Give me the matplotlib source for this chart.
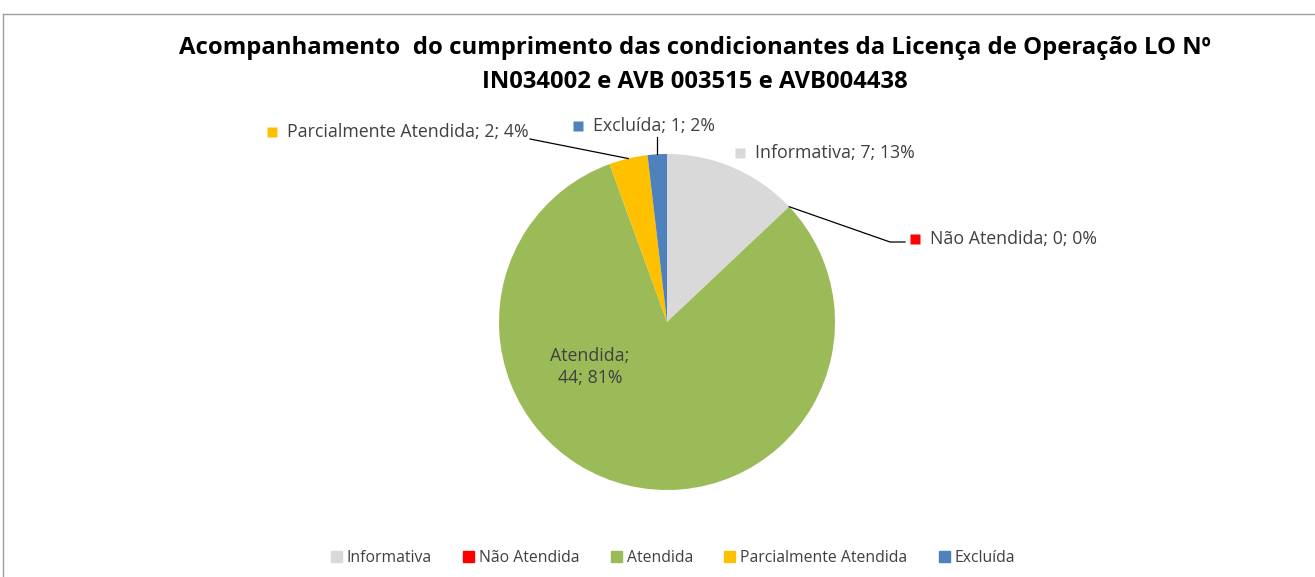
import matplotlib
matplotlib.use("Agg")
from matplotlib import pyplot as plt
from matplotlib.lines import Line2D
import numpy as np

categories = ["Informativa", "Não Atendida", "Atendida", "Parcialmente Atendida", "Excluída"]
values = [7, 0, 44, 2, 1]
colors = ["#D9D9D9", "#FF0000", "#9BBB59", "#FFC000", "#4F81BD"]

title = ("Acompanhamento  do cumprimento das condicionantes da Licença de Operação LO Nº\n"
         "IN034002 e AVB 003515 e AVB004438")

plt.rcParams["font.family"] = ["Open Sans", "DejaVu Sans"]
text_color = "#404040"

W, H = 1315, 577
cx, cy, r = 667, 322, 168

fig = plt.figure(figsize=(W / 100, H / 100), dpi=100)
ax = fig.add_axes([0, 0, 1, 1])

wedges, _ = ax.pie(values, colors=colors, startangle=90, counterclock=False,
                   radius=1, center=(0, 0), frame=True)
ax.set_xlim(-cx / r, (W - cx) / r)
ax.set_ylim((cy - H) / r, cy / r)
ax.set_aspect("equal")
ax.axis("off")

total = sum(values)


def px(x, y):
    return (x - cx) / r, (cy - y) / r


def mid_point(i):
    w = wedges[i]
    a = np.deg2rad((w.theta1 + w.theta2) / 2)
    return np.cos(a), np.sin(a)


# labels outside, with small colour squares (pixel positions of the reference)
label_pos = {0: (740, 153), 1: (915, 239), 3: (272, 132), 4: (578, 126)}
for i, (lx, ly) in label_pos.items():
    pct = round(100 * values[i] / total)
    mx, my = px(lx, ly)
    ax.plot(mx, my, marker="s", ms=7, color=colors[i], mec="none")
    tx, ty = px(lx + 15, ly)
    ax.text(tx, ty, f"{categories[i]}; {values[i]}; {pct}%", fontsize=12.8,
            color=text_color, va="center", ha="left")

# inside label for Atendida
pct = round(100 * values[2] / total)
ax.text(*px(590, 367), f"{categories[2]};\n{values[2]}; {pct}%", fontsize=12.8,
        color=text_color, ha="center", va="center", linespacing=1.3)

# leader lines
ex, ey = mid_point(4)
ax.plot([ex, ex], [ey, px(0, 137)[1]], color="black", lw=0.9)
pxx, pyy = mid_point(3)
sx, sy = px(530, 139)
ax.plot([sx, pxx], [sy, pyy], color="black", lw=0.9)
a = np.deg2rad(wedges[1].theta1)
nx, ny = np.cos(a), np.sin(a)
bx, by = px(890, 242)
ex2, _ = px(905, 242)
ax.plot([nx, bx, ex2], [ny, by, by], color="black", lw=0.9)

fig.text(695 / W, 1 - 65 / H, title, ha="center", va="center", fontsize=17.2,
         fontweight="bold", color="black", linespacing=1.6)

handles = [plt.Rectangle((0, 0), 1, 1, color=c) for c in colors]
fig.legend(handles, categories, loc="center", bbox_to_anchor=(673 / W, 1 - 558 / H),
           ncol=5, frameon=False, fontsize=11.3, handlelength=0.7, handleheight=0.7,
           handletextpad=0.3, columnspacing=2.0, labelcolor=text_color)

# chart border
fig.add_artist(Line2D([3 / W, 1], [1 - 14 / H, 1 - 14 / H], transform=fig.transFigure,
                      color="#A0A0A0", lw=1))
fig.add_artist(Line2D([3 / W, 3 / W], [0, 1 - 14 / H], transform=fig.transFigure,
                      color="#A0A0A0", lw=1))

fig.savefig("out.png", dpi=100)
